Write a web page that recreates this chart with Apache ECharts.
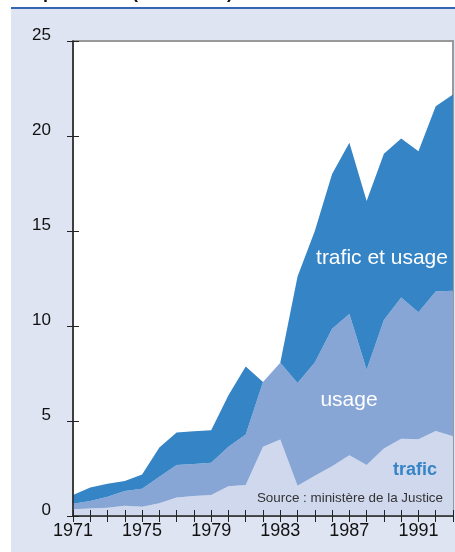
<!DOCTYPE html>
<html>
<head>
<meta charset="utf-8">
<style>html,body{margin:0;padding:0;background:#fff}#c{width:455px;height:552px}</style>
<script src="https://cdn.jsdelivr.net/npm/echarts@6/dist/echarts.min.js"></script>
</head>
<body>
<div id="c"></div>
<script>
var years = ['1971','1972','1973','1974','1975','1976','1977','1978','1979','1980','1981','1982','1983','1984','1985','1986','1987','1988','1989','1990','1991','1992','1993'];
var trafic = [0.35,0.40,0.44,0.54,0.49,0.67,0.98,1.05,1.10,1.57,1.63,3.64,4.02,1.59,2.12,2.62,3.20,2.68,3.55,4.07,4.04,4.48,4.20];
var usage = [0.30,0.39,0.57,0.77,0.94,1.39,1.70,1.69,1.70,2.07,2.66,3.41,4.04,5.41,5.96,7.23,7.43,5.02,6.77,7.43,6.68,7.34,7.66];
var traficEtUsage = [0.45,0.71,0.69,0.53,0.76,1.54,1.71,1.72,1.71,2.71,3.58,0.00,0.00,5.60,6.92,8.15,9.01,8.88,8.74,8.37,8.48,9.74,10.32];
var yTicks = {min: 0, max: 25, interval: 5};

var chart = echarts.init(document.getElementById('c'), null, {renderer: 'canvas'});
var F = '"Liberation Sans", Arial, Helvetica, sans-serif';
function area(name, data, color) {
  return {
    name: name, type: 'line', stack: 'total', data: data,
    symbol: 'none', lineStyle: {width: 0}, areaStyle: {color: color, opacity: 1},
    itemStyle: {color: color}, silent: true, z: 2
  };
}
chart.setOption({
  animation: false,
  backgroundColor: '#fff',
  graphic: [
    {type: 'rect', shape: {x: 11, y: 9, width: 444, height: 543}, style: {fill: '#dee4f2'}, z: -10, silent: true},
    {type: 'rect', shape: {x: 11, y: 7, width: 444, height: 2}, style: {fill: '#3366b3'}, z: -9, silent: true},
    {type: 'text', x: 4, y: 2, style: {text: 'Interpellations (en milliers)', font: 'bold 18px ' + F, fill: '#111', textAlign: 'left', textVerticalAlign: 'bottom'}, z: 10, silent: true},
    {type: 'text', x: 382, y: 258, style: {text: 'trafic et usage', font: '21px ' + F, fill: '#fff', textAlign: 'center', textVerticalAlign: 'middle'}, z: 100, silent: true},
    {type: 'text', x: 349, y: 400, style: {text: 'usage', font: '21px ' + F, fill: '#fff', textAlign: 'center', textVerticalAlign: 'middle'}, z: 100, silent: true},
    {type: 'text', x: 415, y: 470, style: {text: 'trafic', font: 'bold 18px ' + F, fill: '#3584c5', textAlign: 'center', textVerticalAlign: 'middle'}, z: 100, silent: true},
    {type: 'text', x: 443, y: 498, style: {text: 'Source : ministère de la Justice', font: '13.4px ' + F, fill: '#333', textAlign: 'right', textVerticalAlign: 'middle'}, z: 100, silent: true}
  ],
  grid: {left: 73, right: 2, top: 41, bottom: 36, show: true, backgroundColor: '#fff', borderColor: '#999', borderWidth: 2, containLabel: false},
  xAxis: [
    {type: 'category', data: years, boundaryGap: false,
     axisLine: {show: true, lineStyle: {color: '#222', width: 1.5}},
     axisTick: {show: true, interval: 0, length: 6, lineStyle: {color: '#222', width: 1}},
     axisLabel: {interval: 3, margin: 6, fontSize: 18, fontFamily: F, color: '#111'},
     splitLine: {show: false}, z: 10},
    {type: 'category', data: years, boundaryGap: false, position: 'bottom',
     axisLine: {show: false},
     axisTick: {show: true, inside: true, interval: 0, length: 6, lineStyle: {color: '#222', width: 1}},
     axisLabel: {show: false}, splitLine: {show: false}, z: 10}
  ],
  yAxis: [
    {type: 'value', min: yTicks.min, max: yTicks.max, interval: yTicks.interval, position: 'left',
     axisLine: {show: true, lineStyle: {color: '#222', width: 1.5}},
     axisTick: {show: true, length: 6, lineStyle: {color: '#222', width: 1}},
     axisLabel: {margin: 22, fontSize: 17, fontFamily: F, color: '#111', verticalAlign: 'bottom', lineHeight: 12},
     splitLine: {show: false}, z: 10},
    {type: 'value', min: yTicks.min, max: yTicks.max, interval: yTicks.interval, position: 'left', offset: 0,
     axisLine: {show: false},
     axisTick: {show: true, inside: true, length: 6, lineStyle: {color: '#222', width: 1}},
     axisLabel: {show: false}, splitLine: {show: false}, z: 10}
  ],
  series: [
    area('trafic', trafic, '#d0d8ed'),
    area('usage', usage, '#87a6d6'),
    area('trafic et usage', traficEtUsage, '#3584c5')
  ]
});
</script>
</body>
</html>
